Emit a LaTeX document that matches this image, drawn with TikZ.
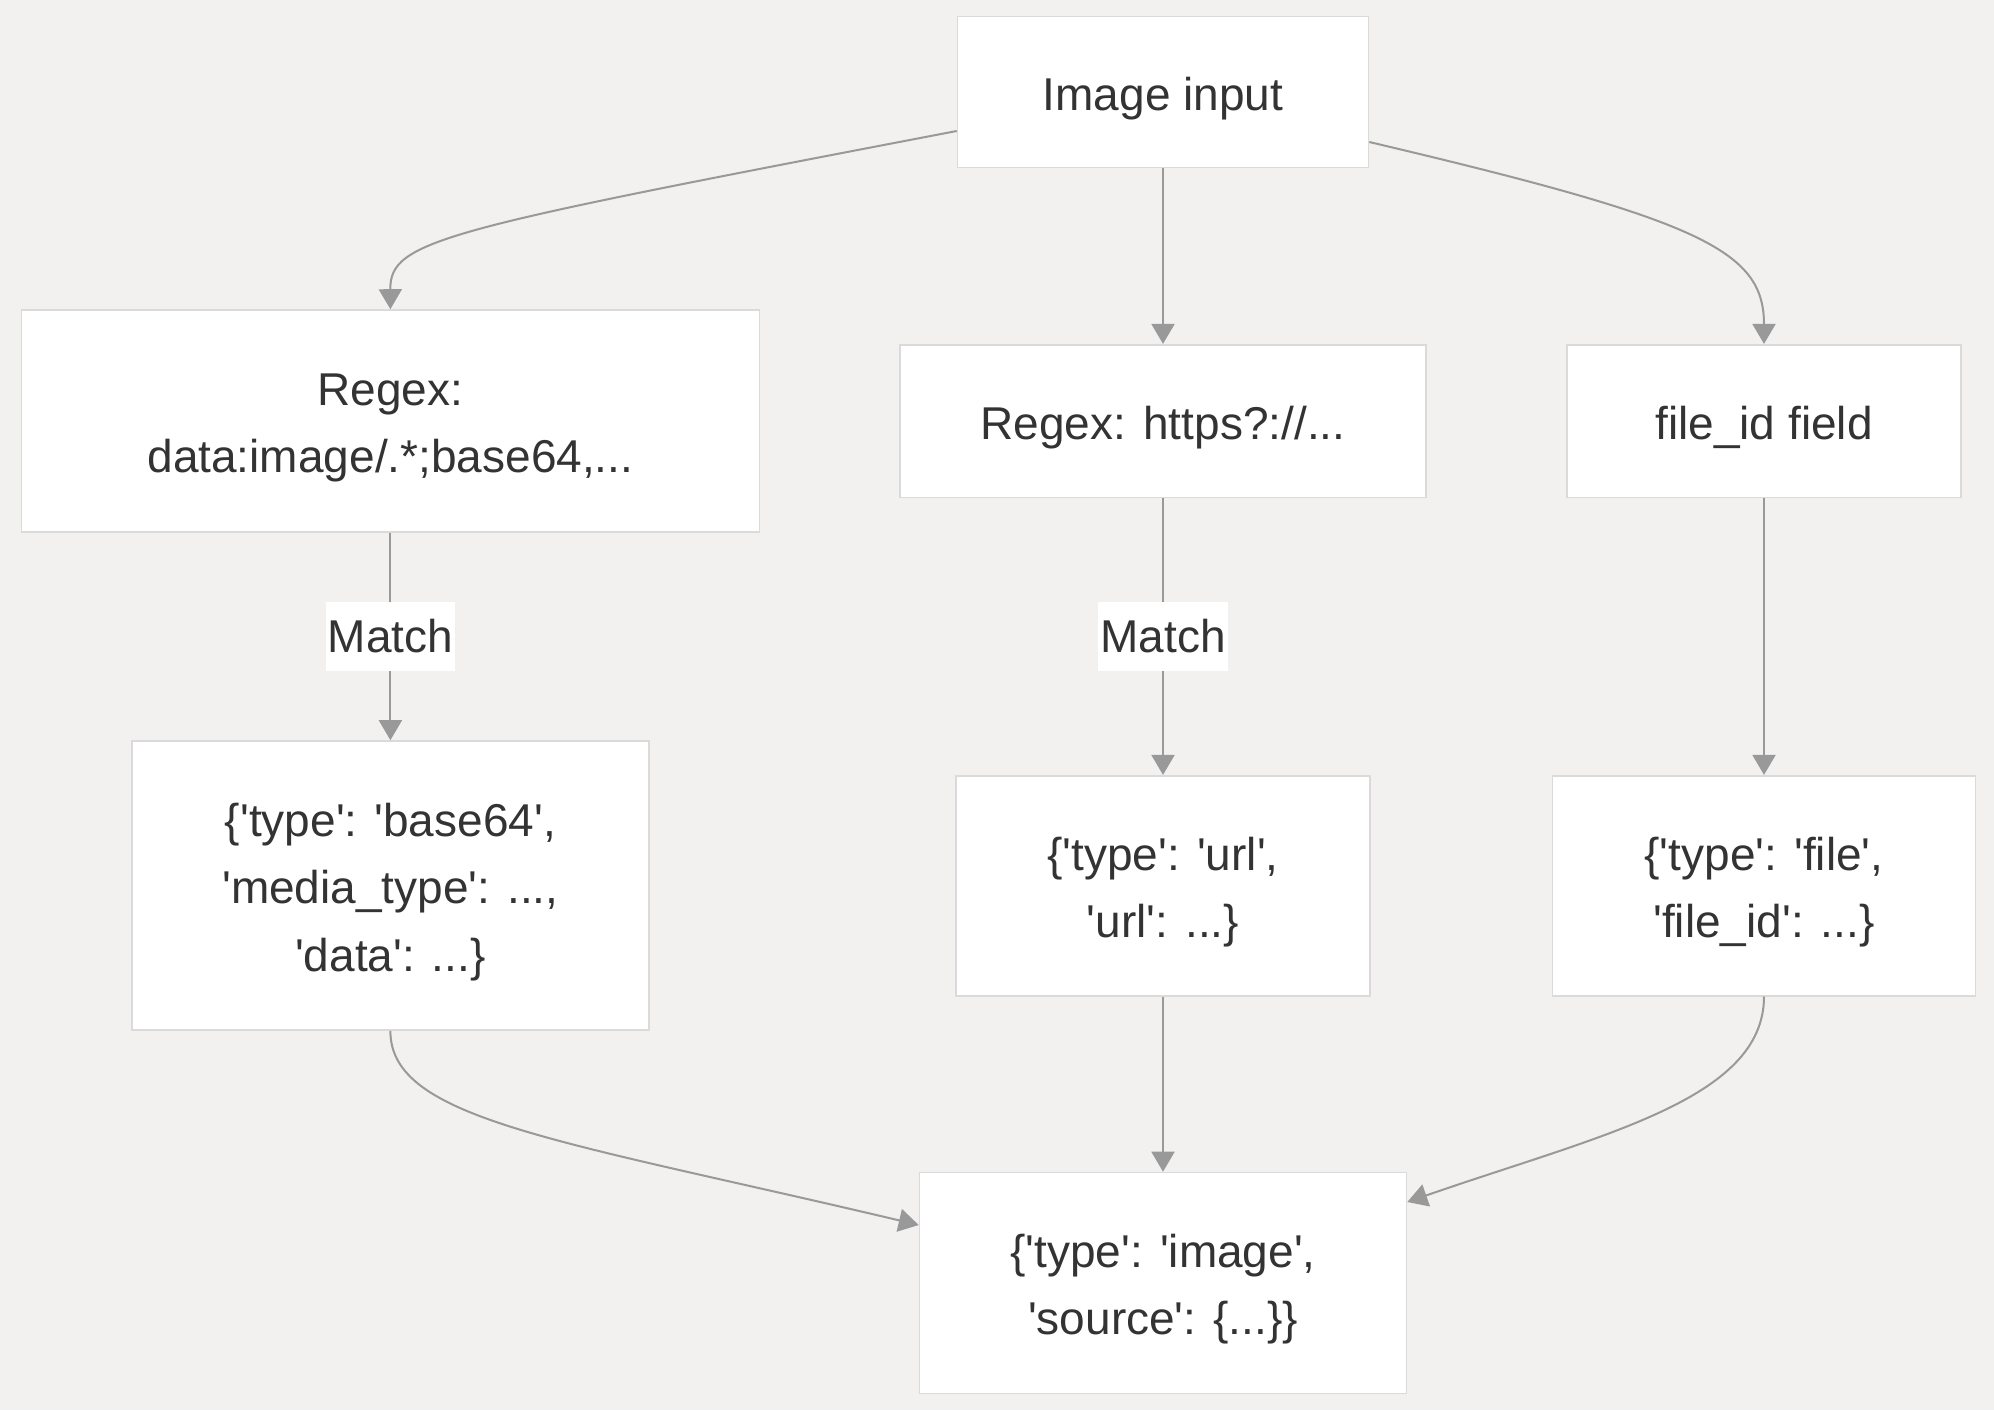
\documentclass[tikz,border=0pt]{standalone}
\usepackage{fontspec}
\setmainfont{Liberation Sans}[Ligatures=TeXOff]
\usetikzlibrary{arrows.meta}
\definecolor{bgcol}{HTML}{F2F1F0}
\definecolor{boxline}{HTML}{DADADA}
\definecolor{edgecol}{HTML}{999999}
\definecolor{txtcol}{HTML}{333333}
\newcommand{\topstrut}{\rule{0pt}{23pt}}
\begin{document}
\begin{tikzpicture} [x = 0.5pt, y = -0.5pt,
	box/.style = {draw = boxline, line width = 0.8pt, fill = white, text = txtcol, align = center, inner sep = 0pt, font = \fontsize{23}{33.7}\selectfont},
	edge/.style = {draw = edgecol, line width = 1pt, -{Triangle[length = 10pt, width = 11.5pt]}},
	lbl/.style = {fill = white, text = txtcol, inner xsep = 1pt, inner ysep = 0pt, minimum height = 34.5pt, font = \fontsize{23}{26}\selectfont}]
	\fill [bgcol] (0,0) rectangle (1994,1410);
	\node [box, minimum width = 205.5pt, minimum height = 75.5pt] (img) at (1163,92) {\topstrut Image input};
	\node [box, minimum width = 369pt, minimum height = 111pt] (rxb) at (390.4,421) {\topstrut Regex:\\data:image/.*;base64,...};
	\node [box, minimum width = 262.8pt, minimum height = 76.3pt] (rxu) at (1163,421) {\topstrut Regex: https?://...};
	\node [box, minimum width = 197pt, minimum height = 76.3pt] (fid) at (1764,421) {\topstrut file\_id field};
	\node [box, minimum width = 258.3pt, minimum height = 144.5pt] (dbs) at (390.4,885.5) {\topstrut\{'type': 'base64',\\'media\_type': ...,\\'data': ...\}};
	\node [box, minimum width = 206.8pt, minimum height = 110pt] (durl) at (1163,885.7) {\topstrut\{'type': 'url',\\'url': ...\}};
	\node [box, minimum width = 211.5pt, minimum height = 110pt] (dfile) at (1764,885.7) {\topstrut\{'type': 'file',\\'file\_id': ...\}};
	\node [box, minimum width = 243.5pt, minimum height = 110.5pt] (dimg) at (1163,1283) {\topstrut\{'type': 'image',\\'source': \{...\}\}};
	\draw [edge] ([yshift = -19.5pt]img.west) .. controls (440,230) and (390,240) .. (rxb.north);
	\draw [edge] (img) -- (rxu);
	\draw [edge] ([yshift = -25pt]img.east) .. controls (1700,220) and (1764,250) .. (fid.north);
	\draw [edge] (rxb) -- node [lbl] {Match} (dbs);
	\draw [edge] (rxu) -- node [lbl] {Match} (durl);
	\draw [edge] (fid) -- (dfile);
	\draw [edge] (dbs.south) .. controls (390,1120) and (560,1140) .. ([yshift = 29pt]dimg.west);
	\draw [edge] (durl) -- (dimg);
	\draw [edge] (dfile.south) .. controls (1764,1100) and (1600,1135) .. ([yshift = 40.5pt]dimg.east);
\end{tikzpicture}
\end{document}
